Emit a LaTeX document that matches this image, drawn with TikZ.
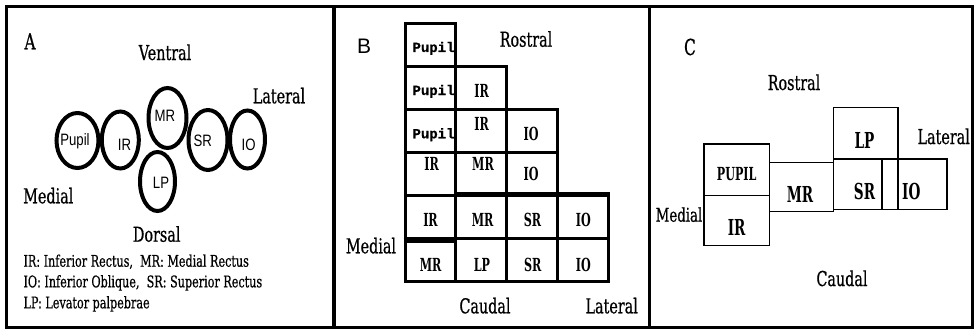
\documentclass[tikz,border=0pt]{standalone}
\usepackage{fontspec}
\usetikzlibrary{shapes.geometric,fit}
\newfontfamily\headfont{DejaVu Serif}[FakeStretch=0.7,FakeBold=0.6]
\newfontfamily\ovalfont{Liberation Sans}[FakeStretch=0.8]
\newfontfamily\letterfont{Liberation Sans}
\newfontfamily\pupilfont{Liberation Mono}[FakeBold=0.8]
\newfontfamily\cellfont{DejaVu Serif}[FakeStretch=0.62]
\begin{document}
\begin{tikzpicture}[x=1pt,y=-1pt,
  txt/.style={anchor=base,inner sep=0pt,outer sep=0pt},
  hd/.style={txt,font=\headfont\fontsize{20.5}{22}\selectfont},
  legend/.style={anchor=base west,inner sep=0pt,font=\headfont\fontsize{16}{18}\selectfont},
  panel/.style={draw,line width=3.5pt,inner sep=0pt},
  oval/.style={ellipse,draw,line width=4pt,inner sep=0pt},
  ovaltxt/.style={txt,font=\ovalfont\fontsize{16.5}{18}\selectfont},
  cellb/.style={draw,line width=3pt,inner sep=0pt},
  celltxt/.style={txt,font=\cellfont\bfseries\fontsize{18}{20}\selectfont},
  pupiltxt/.style={txt,font=\pupilfont\bfseries\fontsize{14}{16}\selectfont},
  cellc/.style={draw,line width=1.4pt,inner sep=0pt},
  ctxt/.style={txt,font=\cellfont\bfseries\fontsize{22}{24}\selectfont},
  ]
\useasboundingbox (0,0) rectangle (974,329);

% three panel frames
\node[panel,fit={(6.5,6.5) (334,327.5)}] (pA) {};
\node[panel,fit={(334,6.5) (649.5,327.5)}] (pB) {};
\node[panel,fit={(649.5,6.5) (972.5,327.5)}] (pC) {};

% ---------------- panel A: cross-section of the muscles
\node[hd,font=\headfont\fontsize{22}{24}\selectfont] (lA) at (30,49.3) {A};
\node[hd] (aVen) at (165,60) {Ventral};
\node[hd] (aLat) at (279,103.3) {Lateral};
\node[hd] (aMed) at (48.3,203.3) {Medial};
\node[hd] (aDor) at (156.7,241.7) {Dorsal};

\node[oval,minimum width=42pt,minimum height=55pt] (oPupil) at (77.5,140.5) {};
\node[oval,minimum width=37pt,minimum height=57pt] (oIR) at (120.3,140) {};
\node[oval,minimum width=38pt,minimum height=60pt] (oMR) at (167.5,118) {};
\node[oval,minimum width=35pt,minimum height=59pt] (oLP) at (157.5,181.5) {};
\node[oval,minimum width=39pt,minimum height=60pt] (oSR) at (208,140) {};
\node[oval,minimum width=35pt,minimum height=58pt] (oIO) at (247.5,139.5) {};

\node[ovaltxt] (tPupil) at (75,145) {Pupil};
\node[ovaltxt] (tIR) at (124.5,150) {IR};
\node[ovaltxt] (tMR) at (165,121.7) {MR};
\node[ovaltxt] (tSR) at (202.7,146.7) {SR};
\node[ovaltxt] (tIO) at (248.7,150) {IO};
\node[ovaltxt] (tLP) at (161,188.3) {LP};

\node[legend] (leg1) at (23.3,266.7) {IR: Inferior Rectus,\ \ MR: Medial Rectus};
\node[legend] (leg2) at (23.3,287.3) {IO: Inferior Oblique,\ \ SR: Superior Rectus};
\node[legend] (leg3) at (23.3,308.3) {LP: Levator palpebrae};

% ---------------- panel B: staircase of sections
\node[txt,font=\letterfont\fontsize{21}{23}\selectfont] (lB) at (364,54) {B};
\node[hd] (bRos) at (526,46.7) {Rostral};
\node[hd] (bMed) at (371,253.3) {Medial};
\node[hd] (bCau) at (485,313.3) {Caudal};
\node[hd] (bLat) at (611.7,313.3) {Lateral};

\foreach \r/\c in {1/1,2/1,2/2,3/1,3/2,3/3,4/1,4/2,4/3,5/1,5/2,5/3,5/4,6/1,6/2,6/3,6/4}
  \node[cellb,fit={({405+(\c-1)*50.8},{23.3+(\r-1)*43.1}) ({405+\c*50.8},{23.3+\r*43.1})}] (b\r\c) {};
\draw[line width=4.5pt] (b51.south west) -- (b51.south east);
\draw[line width=4pt] (b52.north west) -- (b54.north east);

\node[pupiltxt] (t11) at (433.5,52) {Pupil};
\node[pupiltxt] (t21) at (433.5,95) {Pupil};
\node[celltxt] (t22) at (481.7,97.3) {IR};
\node[pupiltxt] (t31) at (433.5,138.3) {Pupil};
\node[celltxt] (t32) at (481.7,130) {IR};
\node[celltxt] (t33) at (531,140) {IO};
\node[celltxt] (t41) at (431.7,170) {IR};
\node[celltxt] (t42) at (483,170) {MR};
\node[celltxt] (t43) at (531,180.7) {IO};
\node[celltxt] (t51) at (430.5,226.7) {IR};
\node[celltxt] (t52) at (482.7,226.7) {MR};
\node[celltxt] (t53) at (532.5,226.7) {SR};
\node[celltxt] (t54) at (583.3,226.7) {IO};
\node[celltxt] (t61) at (430.7,271.7) {MR};
\node[celltxt] (t62) at (482,271.7) {LP};
\node[celltxt] (t63) at (532.7,271.7) {SR};
\node[celltxt] (t64) at (583.3,271.7) {IO};

% ---------------- panel C: flattened layout
\node[hd,font=\headfont\fontsize{22}{24}\selectfont] (lC) at (690,55) {C};
\node[hd] (cRos) at (794,90) {Rostral};
\node[hd] (cLat) at (943.7,144) {Lateral};
\node[hd,font=\headfont\fontsize{19}{21}\selectfont] (cMed) at (679,221.7) {Medial};
\node[hd] (cCau) at (842,286) {Caudal};

\node[cellc,fit={(704,144) (769.3,195.7)}] (cPupil) {};
\node[cellc,fit={(704,195.7) (769.3,245.7)}] (cIR) {};
\node[cellc,fit={(769.3,162.3) (833.5,211.7)}] (cMR) {};
\node[cellc,fit={(833.5,107.3) (898,159)}] (cLP) {};
\node[cellc,fit={(833.5,159) (882,209.3)}] (cSR) {};
\node[cellc,fit={(882,159) (898,209.3)}] (cGap) {};
\node[cellc,fit={(898,159) (947,209.3)}] (cIO) {};

\node[ctxt,font=\cellfont\bfseries\fontsize{18}{20}\selectfont] (uPupil) at (736.7,180) {PUPIL};
\node[ctxt] (uIR) at (736.7,235) {IR};
\node[ctxt] (uMR) at (800,202.7) {MR};
\node[ctxt] (uLP) at (864.5,148.3) {LP};
\node[ctxt] (uSR) at (864.5,199.3) {SR};
\node[ctxt] (uIO) at (911.3,199.3) {IO};
\end{tikzpicture}
\end{document}
